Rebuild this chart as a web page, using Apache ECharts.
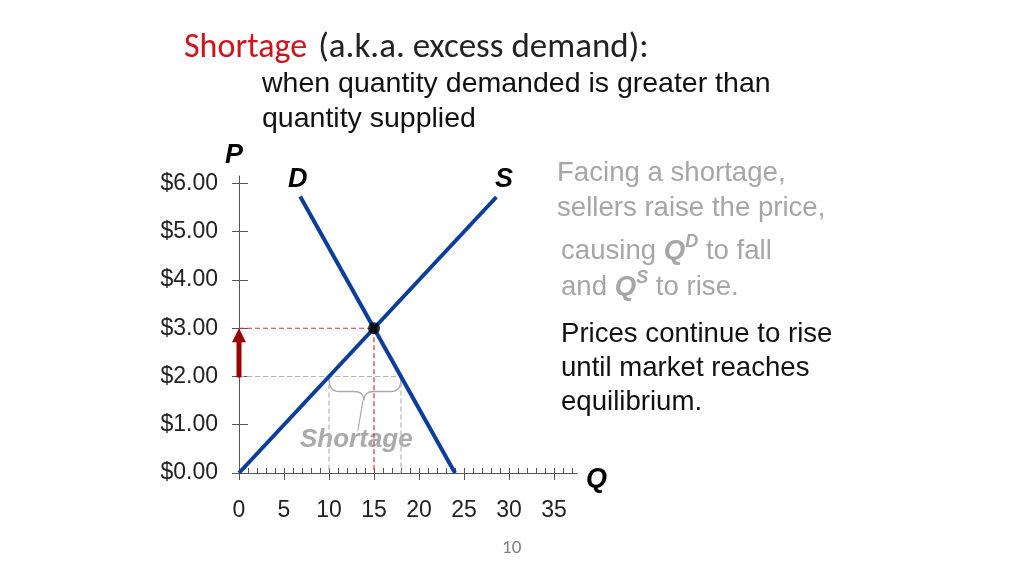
<!DOCTYPE html>
<html>
<head>
<meta charset="utf-8">
<script src="https://cdn.jsdelivr.net/npm/echarts@6/dist/echarts.min.js"></script>
<style>
    html, body { margin: 0; padding: 0; background: #fff; }
    #chart { width: 1024px; height: 576px; }
</style>
</head>
<body>
<div id="chart"></div>
<script>
    "use strict";

    // ---- Data ----
    const priceTicks = [0, 1, 2, 3, 4, 5, 6];
    const qtyTicks = [0, 5, 10, 15, 20, 25, 30, 35];
    const qtyMinorTicks = Array.from({ length: 38 }, (_, i) => i);

    const supplyLine = [[0, 0], [28.6, 5.72]];
    const demandLine = [[6.8, 5.73], [24, 0]];
    const equilibrium = [15, 3];

    const shortagePrice = 2;
    const qSupplied = 10;   // at $2
    const qDemanded = 18;   // at $2
    const arrowLine = [[0, 1.98], [0, 3.0]];

    const BLUE = "#0b3d9c";
    const RED_DASH = "#e0303a";
    const GRAY_DASH = "#b5b5b5";
    const ARIAL = "'Liberation Sans', Arial, sans-serif";
    const CALIBRI = "Carlito, 'Open Sans', sans-serif";

    const chart = echarts.init(document.getElementById("chart"));

    chart.setOption({
        animation: false,
        grid: { left: 239, top: 176, width: 338.4, height: 297 },
        xAxis: [{
            type: "value", min: 0, max: 37.6,
            axisLine: { lineStyle: { color: "#555", width: 1 } },
            axisTick: { customValues: qtyTicks, inside: false, length: 7, lineStyle: { color: "#555" } },
            axisLabel: { customValues: qtyTicks, color: "#222", fontSize: 23, fontFamily: ARIAL, margin: 26 },
            splitLine: { show: false }
        }, {
            type: "value", min: 0, max: 37.6, position: "bottom",
            axisLine: { show: false },
            axisTick: { customValues: qtyMinorTicks, inside: true, length: 5, lineStyle: { color: "#555" } },
            axisLabel: { show: false },
            splitLine: { show: false }
        }],
        yAxis: [{
            type: "value", min: 0, max: 6.155,
            axisLine: { show: true, lineStyle: { color: "#555", width: 1 } },
            axisTick: { show: true, customValues: priceTicks, inside: false, length: 7, lineStyle: { color: "#555" } },
            axisLabel: {
                customValues: priceTicks, color: "#222", fontSize: 23, fontFamily: ARIAL, margin: 21,
                formatter: v => "$" + v.toFixed(2)
            },
            splitLine: { show: false }
        }, {
            type: "value", min: 0, max: 6.155, position: "left",
            axisLine: { show: false },
            axisTick: { show: true, customValues: priceTicks, inside: true, length: 9, lineStyle: { color: "#555" } },
            axisLabel: { show: false },
            splitLine: { show: false }
        }],
        series: [
            {   // reference lines at equilibrium ($3, Q=15)
                type: "line", data: [[0, equilibrium[1]], equilibrium, [equilibrium[0], 0]],
                symbol: "none", z: 2,
                lineStyle: { color: RED_DASH, width: 1.2, type: [5, 3] }
            },
            {   // reference lines at $2
                type: "line", data: [[0, shortagePrice], [qDemanded, shortagePrice], [qDemanded, 0]],
                symbol: "none", z: 2,
                lineStyle: { color: GRAY_DASH, width: 1.2, type: [5, 3] }
            },
            {
                type: "line", data: [[qSupplied, shortagePrice], [qSupplied, 0]],
                symbol: "none", z: 2,
                lineStyle: { color: GRAY_DASH, width: 1.2, type: [5, 3] }
            },
            {   // brace over the shortage
                type: "custom", z: 3,
                data: [[qSupplied, qDemanded, shortagePrice]],
                renderItem: function (params, api) {
                    const a = api.coord([api.value(0), api.value(2)]);
                    const b = api.coord([api.value(1), api.value(2)]);
                    const y0 = a[1] + 2, y1 = a[1] + 15, yTip = a[1] + 24;
                    const mid = a[0] + (b[0] - a[0]) * 0.485;
                    const r = 5;
                    const path = [
                        "M", a[0], y0,
                        "Q", a[0], y1, a[0] + r * 2, y1,
                        "L", mid - r * 2, y1,
                        "Q", mid, y1, mid, yTip,
                        "Q", mid, y1, mid + r * 2, y1,
                        "L", b[0] - r * 2, y1,
                        "Q", b[0], y1, b[0], y0
                    ].join(" ");
                    return {
                        type: "group",
                        children: [{
                            type: "path",
                            shape: { pathData: path },
                            style: { fill: "none", stroke: "#aaaaaa", lineWidth: 1.3 }
                        }, {
                            type: "line",
                            shape: { x1: mid - 1, y1: yTip, x2: mid - 6, y2: yTip + 30 },
                            style: { stroke: "#aaaaaa", lineWidth: 1.2 }
                        }]
                    };
                }
            },
            {
                name: "S", type: "line", data: supplyLine, symbol: "none", z: 4,
                lineStyle: { color: BLUE, width: 4 }
            },
            {
                name: "D", type: "line", data: demandLine, symbol: "none", z: 4,
                lineStyle: { color: BLUE, width: 4 }
            },
            {
                type: "scatter", data: [equilibrium], symbolSize: 12, z: 6,
                itemStyle: { color: "#000" }
            },
            {   // price rising arrow
                type: "custom", z: 5,
                data: [[arrowLine[0][0], arrowLine[0][1], arrowLine[1][0], arrowLine[1][1]]],
                renderItem: function (params, api) {
                    const p0 = api.coord([api.value(0), api.value(1)]);
                    const p1 = api.coord([api.value(2), api.value(3)]);
                    const head = 14, hw = 7;
                    return {
                        type: "group",
                        children: [{
                            type: "line",
                            shape: { x1: p0[0], y1: p0[1], x2: p1[0], y2: p1[1] + head - 1 },
                            style: { stroke: "#9b0000", lineWidth: 5 }
                        }, {
                            type: "polygon",
                            shape: { points: [[p1[0], p1[1]], [p1[0] - hw, p1[1] + head], [p1[0] + hw, p1[1] + head]] },
                            style: { fill: "#9b0000" }
                        }]
                    };
                }
            }
        ],
        graphic: [
            {
                type: "text", left: 184, top: 31,
                style: {
                    text: "{r|Shortage}{g|(a.k.a. excess demand):}",
                    rich: {
                        r: { fill: "#d0121b", fontSize: 34, fontFamily: CALIBRI },
                        g: { fill: "#222", fontSize: 35, fontFamily: CALIBRI, padding: [0, 0, 0, 11] }
                    }
                }
            },
            {
                type: "text", left: 262, top: 67,
                style: {
                    text: "when quantity demanded is greater than\nquantity supplied",
                    fill: "#111", fontSize: 28.5, fontFamily: ARIAL, lineHeight: 35
                }
            },
            { type: "text", left: 225, top: 142, style: { text: "P", fill: "#000", fontSize: 27, fontWeight: "bold", fontStyle: "italic", fontFamily: ARIAL } },
            { type: "text", left: 288, top: 166, style: { text: "D", fill: "#000", fontSize: 27, fontWeight: "bold", fontStyle: "italic", fontFamily: ARIAL } },
            { type: "text", left: 495, top: 166, style: { text: "S", fill: "#000", fontSize: 27, fontWeight: "bold", fontStyle: "italic", fontFamily: ARIAL } },
            { type: "text", left: 586, top: 466, style: { text: "Q", fill: "#000", fontSize: 27, fontWeight: "bold", fontStyle: "italic", fontFamily: ARIAL } },
            {
                type: "text", left: 300, top: 427,
                style: { text: "Shortage", fill: "#aaaaaa", fontSize: 26, fontWeight: "bold", fontStyle: "italic", fontFamily: ARIAL }
            },
            {
                type: "text", left: 557, top: 156,
                style: {
                    text: "Facing a shortage,\nsellers raise the price,",
                    fill: "#a6a6a6", fontSize: 27.6, fontFamily: ARIAL, lineHeight: 35
                }
            },
            {
                type: "text", left: 561, top: 233,
                style: {
                    text: "causing {b|Q}{s|D} to fall\nand {b|Q}{s|S} to rise.",
                    fill: "#a6a6a6", fontSize: 27.6, fontFamily: ARIAL, lineHeight: 36,
                    rich: {
                        b: { fill: "#a6a6a6", fontSize: 27.6, fontWeight: "bold", fontStyle: "italic", fontFamily: ARIAL, lineHeight: 36 },
                        s: { fill: "#a6a6a6", fontSize: 18, fontWeight: "bold", fontStyle: "italic", fontFamily: ARIAL, verticalAlign: "top", padding: [0, 0, 14, 0], lineHeight: 36 }
                    }
                }
            },
            {
                type: "text", left: 561, top: 317,
                style: {
                    text: "Prices continue to rise\nuntil market reaches\nequilibrium.",
                    fill: "#111", fontSize: 27.6, fontFamily: ARIAL, lineHeight: 34
                }
            },
            {
                type: "text", left: 502, top: 539,
                style: { text: "10", fill: "#808080", fontSize: 19, fontFamily: CALIBRI }
            }
        ]
    });
</script>
</body>
</html>
